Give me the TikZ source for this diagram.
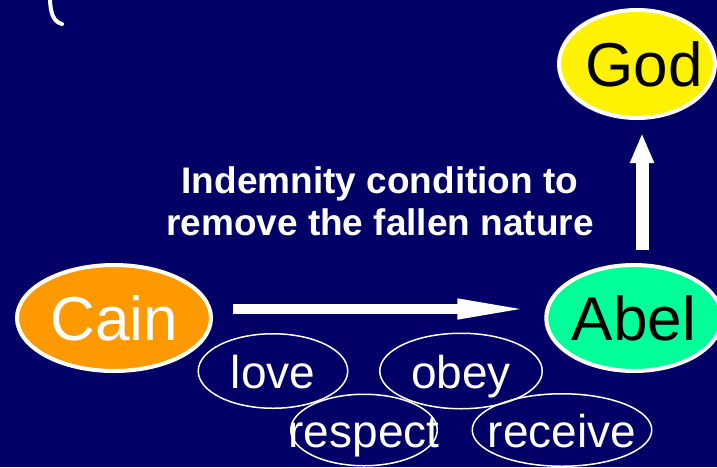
\documentclass[tikz,border=0pt]{standalone}
\usepackage{fontspec}
\setmainfont{Liberation Sans}
\usepackage{tikz}
\usetikzlibrary{arrows.meta, shapes.geometric}
\definecolor{navy}{RGB}{0,0,102}
\definecolor{cainorange}{RGB}{255,153,0}
\definecolor{abelgreen}{RGB}{0,255,153}

\begin{document}
\begin{tikzpicture}[x=1pt,y=-1pt,
    person/.style={ellipse, draw=white, line width=4pt, inner sep=0pt, font=\fontsize{62}{62}\selectfont},
    virtue/.style={ellipse, draw=white, line width=1.5pt, inner sep=0pt},
    word/.style={text=white, font=\fontsize{46}{46}\selectfont, text height=34pt, text depth=0pt, inner sep=0pt},
    bigarrow/.style={draw=white, line width=10pt, -{Triangle[length=75pt, width=18pt]}},
    uparrow/.style={draw=white, line width=13pt, -{Triangle[length=30pt, width=22pt]}}]
      \useasboundingbox (0,0) rectangle (717,467);
      \fill[navy] (0,0) rectangle (717,467);
      % leftover bracket at the top
      \draw[white, line width=4pt, line cap=round] (50,-3) .. controls (50,14) and (54,22) .. (62,24);

      \node[person, fill=yellow, minimum width=156pt, minimum height=108pt,
            label={[font=\fontsize{62}{62}\selectfont, xshift=7pt]center:God}] (god) at (637,64) {};
      \node[person, fill=cainorange, text=white, minimum width=194pt, minimum height=106pt] (cain) at (114,318) {Cain};
      \node[person, fill=abelgreen, minimum width=174pt, minimum height=106pt] (abel) at (634,318) {Abel};

      \node[text=white, align=center, font=\fontsize{37}{42}\selectfont\bfseries] (cond) at (380,201)
            {Indemnity condition to\\remove the fallen nature};

      \node[virtue, minimum width=149.5pt, minimum height=74.5pt, label={[word]center:love}] (love) at (273,371) {};
      \node[virtue, minimum width=162.5pt, minimum height=75.5pt, label={[word]center:obey}] (obey) at (461,371) {};
      \node[virtue, minimum width=146.5pt, minimum height=71.5pt, label={[word]center:respect}] (respect) at (364,430) {};
      \node[virtue, minimum width=179.5pt, minimum height=72.5pt, label={[word]center:receive}] (receive) at (562,430) {};

      \draw[bigarrow, shorten <=20pt, shorten >=12pt] ([yshift=9pt]cain.east) -- ([yshift=9pt]abel.west);
      \draw[uparrow, shorten <=13pt, shorten >=13pt] ([xshift=8pt]abel.north) -- ([xshift=5pt]god.south);
    \end{tikzpicture}
\end{document}
